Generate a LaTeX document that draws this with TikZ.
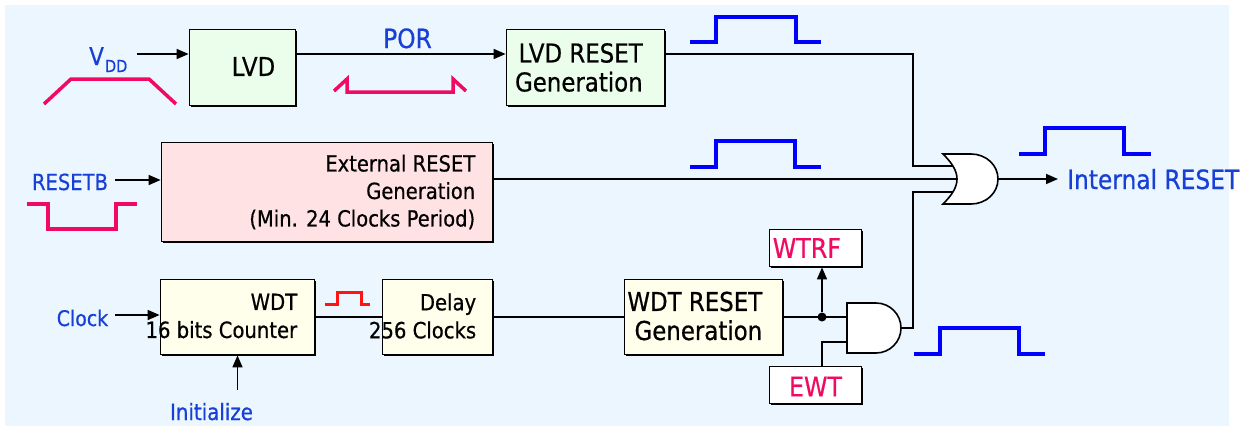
\documentclass[tikz,border=0pt]{standalone}
\usepackage{fontspec}
\setmainfont[FakeStretch=0.88,FakeBold=0.6]{DejaVu Sans}
\usetikzlibrary{arrows.meta,shadows}
\definecolor{bgblue}{RGB}{235,246,254}
\definecolor{lvdgreen}{RGB}{235,253,235}
\definecolor{extpink}{RGB}{255,226,228}
\definecolor{wdtyel}{RGB}{255,255,236}
\definecolor{txtblue}{RGB}{24,64,214}
\definecolor{sigpink}{RGB}{240,10,100}
\definecolor{sigred}{RGB}{255,20,20}
\definecolor{sigblue}{RGB}{0,0,255}
\begin{document}
\begin{tikzpicture}[x=1pt,y=-1pt,
  wire/.style={line width=1.6pt},
  arr/.style={wire,-{Triangle[length=12pt,width=10pt]}},
  blk/.style={draw,line width=1.8pt,inner sep=0pt,
    drop shadow={shadow xshift=1.5pt,shadow yshift=-1.5pt,fill=black,opacity=1}},
  txt/.style={inner sep=0pt,text=black},
  lbl/.style={inner sep=0pt,text=txtblue},
  flag/.style={inner sep=0pt,text=sigpink,font=\fontsize{27}{28}\selectfont},
  fA/.style={font=\fontsize{26}{29}\selectfont},
  fB/.style={font=\fontsize{22.2}{27.5}\selectfont},
  fC/.style={font=\fontsize{22.3}{28}\selectfont},
  wave/.style={line width=3.5pt,line join=miter},
  dot/.style={circle,fill=black,inner sep=0pt,minimum size=9pt}]
\useasboundingbox (0,0) rectangle (1247,426);
\fill[bgblue] (5,5) rectangle (1229,426);

% free ends and gate pins
\coordinate (vdd-in) at (137,54);
\coordinate (rstb-in) at (115,180);
\coordinate (clk-in) at (115,315);
\coordinate (init-in) at (237.5,390);
\coordinate (or-in1) at (955,166);
\coordinate (or-in2) at (957,179);
\coordinate (or-in3) at (955,192);
\coordinate (or-out) at (998,179);
\coordinate (and-in1) at (847,317);
\coordinate (and-in2) at (847,342);
\coordinate (and-out) at (901,328);

% blocks
\node[blk,fill=lvdgreen,minimum width=106pt,minimum height=76pt] (lvd) at (242.5,67.5) {};
\node[blk,fill=lvdgreen,minimum width=158pt,minimum height=76pt] (lvdr) at (585.5,67.5) {};
\node[blk,fill=extpink,minimum width=331pt,minimum height=99pt] (ext) at (327,192) {};
\node[blk,fill=wdtyel,minimum width=154pt,minimum height=75pt] (wdt) at (237.5,317) {};
\node[blk,fill=wdtyel,minimum width=110pt,minimum height=75pt] (dly) at (437.5,317) {};
\node[blk,fill=wdtyel,minimum width=158pt,minimum height=75pt] (wdtr) at (703.5,317) {};
\node[blk,fill=white,minimum width=92pt,minimum height=37pt] (wtrf) at (815.5,248) {};
\node[blk,fill=white,minimum width=92pt,minimum height=37pt] (ewt) at (815.5,385) {};

% block texts
\node[txt,fA,anchor=east] (lvd-t) at ([xshift=-21pt,yshift=1pt]lvd.east) {LVD};
\node[txt,fA,align=right,anchor=east] (lvdr-t) at ([xshift=-22.5pt]lvdr.east) {LVD RESET\\Generation};
\node[txt,fB,align=right,anchor=east] (ext-t) at ([xshift=-18pt]ext.east) {External RESET\\Generation\\(Min. 24 Clocks Period)};
\node[txt,fC,align=right,anchor=east] (wdt-t) at ([xshift=-18pt,yshift=1pt]wdt.east) {WDT\\16 bits Counter};
\node[txt,fC,align=right,anchor=east] (dly-t) at ([xshift=-17pt,yshift=1pt]dly.east) {Delay\\256 Clocks};
\node[txt,fA,align=right,anchor=east] (wdtr-t) at ([xshift=-21pt,yshift=1pt]wdtr.east) {WDT RESET\\Generation};
\node[flag,anchor=west] (wtrf-t) at ([xshift=4pt]wtrf.west) {WTRF};
\node[flag] (ewt-t) at ([yshift=-1.5pt]ewt.center) {EWT};

% signal labels
\node[lbl,anchor=base west] (vdd) at (89,65) {\fontsize{24.5}{24}\selectfont V\kern1pt\raisebox{-7pt}{\fontsize{16.5}{16}\selectfont DD}};
\node[lbl,anchor=base,font=\fontsize{26.5}{26}\selectfont] (por) at (407.5,48) {POR};
\node[lbl,anchor=base,font=\fontsize{22.2}{22}\selectfont] (rstb) at (70,190) {RESETB};
\node[lbl,anchor=base,font=\fontsize{21.5}{22}\selectfont] (clk) at (82.5,326) {Clock};
\node[lbl,anchor=base,font=\fontsize{22.5}{22}\selectfont] (init) at (211.5,420) {Initialize};
\node[lbl,anchor=base west,inner xsep=9pt,font=\fontsize{26.5}{26}\selectfont] (ir) at (1058,189) {Internal RESET};

% connectors
\draw[arr] (vdd-in) -- (vdd-in -| lvd.west);
\draw[arr] ([yshift=13.5pt]lvd.east) -- ([yshift=13.5pt]lvdr.west);
\draw[wire] ([yshift=13.5pt]lvdr.east) -- (913,54) -- (913,166) -- (or-in1);
\draw[arr] (rstb-in) -- (rstb-in -| ext.west);
\draw[wire] ([yshift=13pt]ext.east) -- (or-in2);
\draw[arr] (clk-in) -- (clk-in -| wdt.west);
\draw[arr] (init-in) -- (wdt.south);
\draw[wire] (wdt.east) -- (dly.west);
\draw[wire] (dly.east) -- (wdtr.west);
\draw[wire] (wdtr.east) -- (and-in1);
\node[dot] (jn) at (822,317) {};
\draw[arr] (jn) -- (jn |- wtrf.south);
\draw[wire] (and-in2) -- (jn |- and-in2) -- (jn |- ewt.north);
\draw[wire] (and-out) -- (913,328) -- (913,192) -- (or-in3);
\draw[arr] (or-out) -- (or-out -| ir.west);

% gates
\filldraw[wire,fill=white] (943,154) -- (971,154) .. controls (986,154) and (998,165) .. (998,179)
  .. controls (998,193) and (986,204) .. (971,204) -- (943,204)
  .. controls (951,196) and (957,188) .. (957,179)
  .. controls (957,170) and (951,162) .. (943,154) -- cycle;
\filldraw[wire,fill=white] (847,303) -- (876,303) arc[start angle=90,end angle=-90,radius=25pt] -- (847,353) -- cycle;

% waveforms
\draw[wave,sigpink] (44,104) -- (71,79) -- (149,79) -- (176,104);
\draw[wave,sigpink] (334,91) -- (347,79) -- (347,92) -- (453,92) -- (453,79) -- (466,91);
\draw[wave,sigpink] (27,204) -- (48,204) -- (48,229) -- (116,229) -- (116,204) -- (137,204);
\draw[wave,sigred,line width=3pt] (325,304) -- (337,304) -- (337,292) -- (361,292) -- (361,304) -- (370,304);
\draw[wave,sigblue] (690,42) -- (716,42) -- (716,17) -- (796,17) -- (796,42) -- (821,42);
\draw[wave,sigblue] (690,167) -- (716,167) -- (716,141) -- (795,141) -- (795,167) -- (821,167);
\draw[wave,sigblue] (1019,154) -- (1045,154) -- (1045,128) -- (1124,128) -- (1124,154) -- (1151,154);
\draw[wave,sigblue] (914,354) -- (940,354) -- (940,328) -- (1019,328) -- (1019,354) -- (1045,354);
\end{tikzpicture}
\end{document}
